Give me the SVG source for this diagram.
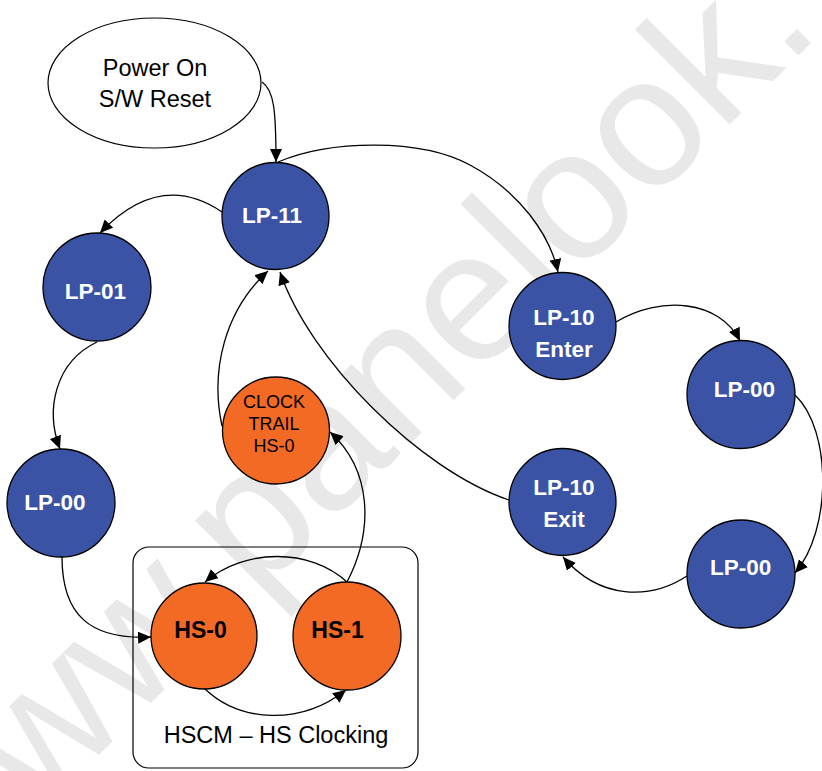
<svg xmlns="http://www.w3.org/2000/svg" width="822" height="771" viewBox="0 0 822 771">
<style>
.lp{fill:#3B53A5;stroke:#000;stroke-width:1.3}
.hs{fill:#F26A23;stroke:#000;stroke-width:1.3}
.wt{font-family:"Liberation Sans",Arial,sans-serif;font-weight:bold;font-size:22.5px;fill:#fff;text-anchor:middle}
.bt{font-family:"Liberation Sans",Arial,sans-serif;font-weight:bold;font-size:23px;fill:#000;text-anchor:middle}
.nt{font-family:"Liberation Sans",Arial,sans-serif;font-size:23.5px;fill:#000;text-anchor:middle}
.st{font-family:"Liberation Sans",Arial,sans-serif;font-size:18px;fill:#000;text-anchor:middle}
.c{fill:none;stroke:#000;stroke-width:1.3;marker-end:url(#ah)}
</style>
<defs>
<marker id="ah" markerUnits="userSpaceOnUse" markerWidth="14" markerHeight="12" refX="13" refY="6" orient="auto">
<path d="M0,0 L13,6 L0,12 Z" fill="#000"/>
</marker>
</defs>
<rect width="822" height="771" fill="#fff"/>
<text x="0" y="0" transform="translate(-57,911) rotate(-45)" font-family="Liberation Sans,Arial,sans-serif" font-size="185" fill="#e8e8e8">www.panelook.</text>

<g id="box">
<rect x="133" y="547" width="285" height="221" rx="16" ry="16" fill="none" stroke="#000" stroke-width="1.2"/>
<text class="nt" x="276" y="743">HSCM – HS Clocking</text>
</g>

<g id="connectors">
<path class="c" d="M262,82 C274,90 276,110 276,162"/>
<path class="c" d="M222,212 Q160,170 100,233"/>
<path class="c" d="M278,162 C330,140 420,138 470,165 C520,192 550,235 558,272"/>
<path class="c" d="M97,342 C55,362 45,410 60,449"/>
<path class="c" d="M62,557 C62,615 90,640 151,637"/>
<path class="c" d="M205,689 C240,722 300,726 346,690"/>
<path class="c" d="M347,582 C310,548 245,548 205,582"/>
<path class="c" d="M347,582 C374,530 372,470 330,432"/>
<path class="c" d="M222,426 C210,370 225,310 268,271"/>
<path class="c" d="M509,500 C420,470 310,360 280,272"/>
<path class="c" d="M616,322 C660,295 720,300 740,341"/>
<path class="c" d="M795,395 C832,430 832,530 795,573"/>
<path class="c" d="M687,576 C650,600 600,600 563,557"/>
</g>

<g id="power-on">
<ellipse cx="154.5" cy="83" rx="106.5" ry="65" fill="#fff" stroke="#000" stroke-width="1.2"/>
<text class="nt" x="155" y="76">Power On</text>
<text class="nt" x="155" y="107">S/W Reset</text>
</g>
<g id="lp11">
<circle class="lp" cx="275.5" cy="216" r="53.5"/>
<text class="wt" x="272" y="223">LP-11</text>
</g>
<g id="lp01">
<circle class="lp" cx="97" cy="287" r="54"/>
<text class="wt" x="95.5" y="299">LP-01</text>
</g>
<g id="lp00-left">
<circle class="lp" cx="61" cy="503" r="54"/>
<text class="wt" x="55" y="510">LP-00</text>
</g>
<g id="clock-trail">
<circle class="hs" cx="276" cy="430.5" r="53.5"/>
<text class="st" x="274" y="408">CLOCK</text>
<text class="st" x="274" y="430">TRAIL</text>
<text class="st" x="274" y="452">HS-0</text>
</g>
<g id="hs0">
<circle class="hs" cx="204" cy="636" r="53"/>
<text class="bt" x="200.5" y="638">HS-0</text>
</g>
<g id="hs1">
<circle class="hs" cx="347" cy="636" r="54"/>
<text class="bt" x="337.5" y="638">HS-1</text>
</g>
<g id="lp10-enter">
<circle class="lp" cx="562.5" cy="326" r="53.5"/>
<text class="wt" x="564" y="325">LP-10</text>
<text class="wt" x="564" y="357">Enter</text>
</g>
<g id="lp00-right-top">
<circle class="lp" cx="741" cy="394.5" r="54"/>
<text class="wt" x="744.5" y="397">LP-00</text>
</g>
<g id="lp10-exit">
<circle class="lp" cx="562.5" cy="502" r="53.5"/>
<text class="wt" x="564" y="495">LP-10</text>
<text class="wt" x="564" y="527">Exit</text>
</g>
<g id="lp00-right-bottom">
<circle class="lp" cx="741" cy="574" r="54"/>
<text class="wt" x="740.7" y="575">LP-00</text>
</g>
</svg>
